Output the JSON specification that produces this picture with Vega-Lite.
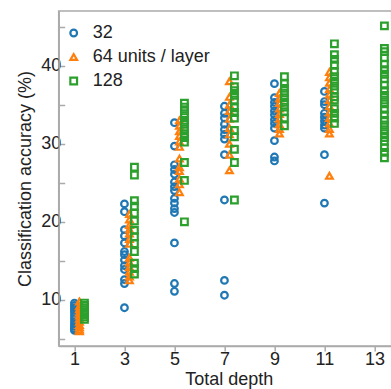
{
  "$schema": "https://vega.github.io/schema/vega-lite/v6.json",
  "autosize": {"type": "none"},
  "padding": {"left": 58.7, "top": 11, "right": 0, "bottom": 43},
  "width": 333,
  "height": 335,
  "background": "white",
  "config": {
    "font": "Liberation Sans",
    "view": {"stroke": "#aaaaaa", "strokeWidth": 1.5},
    "axis": {
      "grid": false,
      "domainColor": "#aaaaaa",
      "domainWidth": 1.5,
      "tickColor": "#aaaaaa",
      "tickWidth": 1.5,
      "labelFont": "Liberation Sans",
      "labelFontSize": 18,
      "labelColor": "#222222",
      "titleFont": "Liberation Sans",
      "titleFontSize": 18,
      "titleFontWeight": "normal",
      "titleColor": "#222222"
    },
    "legend": {
      "orient": "none",
      "legendX": 6,
      "legendY": 13,
      "padding": 0,
      "labelFont": "Liberation Sans",
      "labelFontSize": 18,
      "labelColor": "#222222",
      "rowPadding": 6,
      "labelOffset": 10,
      "symbolStrokeWidth": 2.2,
      "symbolSize": 45,
      "title": null
    }
  },
  "data": {
    "values": [
      {"s":"32","x":1,"a":9.6},{"s":"32","x":1,"a":9.3},{"s":"32","x":1,"a":9.0},{"s":"32","x":1,"a":8.7},{"s":"32","x":1,"a":8.4},{"s":"32","x":1,"a":8.0},{"s":"32","x":1,"a":7.6},{"s":"32","x":1,"a":7.2},{"s":"32","x":1,"a":6.9},{"s":"32","x":1,"a":6.6},{"s":"32","x":1,"a":6.3},{"s":"32","x":1,"a":6.1},
      {"s":"32","x":3,"a":22.3},{"s":"32","x":3,"a":21.3},{"s":"32","x":3,"a":19.0},{"s":"32","x":3,"a":18.2},{"s":"32","x":3,"a":17.3},{"s":"32","x":3,"a":16.2},{"s":"32","x":3,"a":15.8},{"s":"32","x":3,"a":15.1},{"s":"32","x":3,"a":14.4},{"s":"32","x":3,"a":13.9},{"s":"32","x":3,"a":12.6},{"s":"32","x":3,"a":12.1},{"s":"32","x":3,"a":9.0},
      {"s":"32","x":5,"a":32.7},{"s":"32","x":5,"a":29.7},{"s":"32","x":5,"a":27.3},{"s":"32","x":5,"a":26.7},{"s":"32","x":5,"a":26.1},{"s":"32","x":5,"a":25.1},{"s":"32","x":5,"a":24.5},{"s":"32","x":5,"a":24.0},{"s":"32","x":5,"a":23.0},{"s":"32","x":5,"a":22.4},{"s":"32","x":5,"a":21.7},{"s":"32","x":5,"a":21.2},{"s":"32","x":5,"a":17.3},{"s":"32","x":5,"a":12.1},{"s":"32","x":5,"a":11.1},
      {"s":"32","x":7,"a":34.8},{"s":"32","x":7,"a":33.9},{"s":"32","x":7,"a":33.3},{"s":"32","x":7,"a":32.5},{"s":"32","x":7,"a":31.8},{"s":"32","x":7,"a":31.2},{"s":"32","x":7,"a":30.6},{"s":"32","x":7,"a":28.6},{"s":"32","x":7,"a":22.8},{"s":"32","x":7,"a":12.5},{"s":"32","x":7,"a":10.6},
      {"s":"32","x":9,"a":37.7},{"s":"32","x":9,"a":35.9},{"s":"32","x":9,"a":35.3},{"s":"32","x":9,"a":34.8},{"s":"32","x":9,"a":34.2},{"s":"32","x":9,"a":33.7},{"s":"32","x":9,"a":33.1},{"s":"32","x":9,"a":32.6},{"s":"32","x":9,"a":32.0},{"s":"32","x":9,"a":30.4},{"s":"32","x":9,"a":28.3},{"s":"32","x":9,"a":27.8},
      {"s":"32","x":11,"a":36.7},{"s":"32","x":11,"a":35.4},{"s":"32","x":11,"a":35.0},{"s":"32","x":11,"a":33.9},{"s":"32","x":11,"a":33.4},{"s":"32","x":11,"a":32.9},{"s":"32","x":11,"a":32.4},{"s":"32","x":11,"a":32.0},{"s":"32","x":11,"a":28.6},{"s":"32","x":11,"a":22.4},
      {"s":"64","x":1.2,"a":9.8},{"s":"64","x":1.2,"a":9.2},{"s":"64","x":1.2,"a":8.8},{"s":"64","x":1.2,"a":8.4},{"s":"64","x":1.2,"a":8.0},{"s":"64","x":1.2,"a":7.6},{"s":"64","x":1.2,"a":7.2},{"s":"64","x":1.2,"a":6.8},{"s":"64","x":1.2,"a":6.5},{"s":"64","x":1.2,"a":6.2},{"s":"64","x":1.2,"a":6.0},
      {"s":"64","x":3.2,"a":21.0},{"s":"64","x":3.2,"a":20.3},{"s":"64","x":3.2,"a":19.6},{"s":"64","x":3.2,"a":19.0},{"s":"64","x":3.2,"a":18.5},{"s":"64","x":3.2,"a":17.8},{"s":"64","x":3.2,"a":17.2},{"s":"64","x":3.2,"a":15.4},{"s":"64","x":3.2,"a":14.8},{"s":"64","x":3.2,"a":14.2},{"s":"64","x":3.2,"a":13.6},{"s":"64","x":3.2,"a":13.0},{"s":"64","x":3.2,"a":12.5},
      {"s":"64","x":5.2,"a":33.0},{"s":"64","x":5.2,"a":32.3},{"s":"64","x":5.2,"a":31.6},{"s":"64","x":5.2,"a":31.0},{"s":"64","x":5.2,"a":30.3},{"s":"64","x":5.2,"a":29.6},{"s":"64","x":5.2,"a":28.1},{"s":"64","x":5.2,"a":27.0},{"s":"64","x":5.2,"a":26.5},{"s":"64","x":5.2,"a":25.5},{"s":"64","x":5.2,"a":24.8},{"s":"64","x":5.2,"a":23.8},
      {"s":"64","x":7.2,"a":38.0},{"s":"64","x":7.2,"a":36.0},{"s":"64","x":7.2,"a":35.0},{"s":"64","x":7.2,"a":34.2},{"s":"64","x":7.2,"a":33.2},{"s":"64","x":7.2,"a":32.0},{"s":"64","x":7.2,"a":31.2},{"s":"64","x":7.2,"a":30.0},{"s":"64","x":7.2,"a":28.6},{"s":"64","x":7.2,"a":26.6},
      {"s":"64","x":9.2,"a":36.5},{"s":"64","x":9.2,"a":35.8},{"s":"64","x":9.2,"a":35.2},{"s":"64","x":9.2,"a":34.5},{"s":"64","x":9.2,"a":33.8},{"s":"64","x":9.2,"a":33.2},{"s":"64","x":9.2,"a":32.5},{"s":"64","x":9.2,"a":31.9},{"s":"64","x":9.2,"a":31.3},
      {"s":"64","x":11.2,"a":39.2},{"s":"64","x":11.2,"a":38.5},{"s":"64","x":11.2,"a":37.8},{"s":"64","x":11.2,"a":37.0},{"s":"64","x":11.2,"a":36.3},{"s":"64","x":11.2,"a":35.6},{"s":"64","x":11.2,"a":34.8},{"s":"64","x":11.2,"a":34.0},{"s":"64","x":11.2,"a":33.3},{"s":"64","x":11.2,"a":32.6},{"s":"64","x":11.2,"a":31.9},{"s":"64","x":11.2,"a":31.3},{"s":"64","x":11.2,"a":25.9},
      {"s":"128","x":1.4,"a":9.6},{"s":"128","x":1.4,"a":9.3},{"s":"128","x":1.4,"a":9.0},{"s":"128","x":1.4,"a":8.7},{"s":"128","x":1.4,"a":8.4},{"s":"128","x":1.4,"a":8.1},{"s":"128","x":1.4,"a":7.8},{"s":"128","x":1.4,"a":7.5},
      {"s":"128","x":3.4,"a":27.0},{"s":"128","x":3.4,"a":26.0},{"s":"128","x":3.4,"a":22.7},{"s":"128","x":3.4,"a":22.0},{"s":"128","x":3.4,"a":21.1},{"s":"128","x":3.4,"a":20.1},{"s":"128","x":3.4,"a":18.9},{"s":"128","x":3.4,"a":18.1},{"s":"128","x":3.4,"a":17.2},{"s":"128","x":3.4,"a":16.2},{"s":"128","x":3.4,"a":14.7},{"s":"128","x":3.4,"a":14.0},{"s":"128","x":3.4,"a":13.3},
      {"s":"128","x":5.4,"a":35.2},{"s":"128","x":5.4,"a":34.7},{"s":"128","x":5.4,"a":34.2},{"s":"128","x":5.4,"a":33.6},{"s":"128","x":5.4,"a":33.0},{"s":"128","x":5.4,"a":32.5},{"s":"128","x":5.4,"a":31.9},{"s":"128","x":5.4,"a":31.3},{"s":"128","x":5.4,"a":30.8},{"s":"128","x":5.4,"a":30.2},{"s":"128","x":5.4,"a":27.6},{"s":"128","x":5.4,"a":25.3},{"s":"128","x":5.4,"a":20.0},
      {"s":"128","x":7.4,"a":38.7},{"s":"128","x":7.4,"a":37.3},{"s":"128","x":7.4,"a":36.8},{"s":"128","x":7.4,"a":36.2},{"s":"128","x":7.4,"a":35.6},{"s":"128","x":7.4,"a":34.6},{"s":"128","x":7.4,"a":34.0},{"s":"128","x":7.4,"a":33.3},{"s":"128","x":7.4,"a":31.7},{"s":"128","x":7.4,"a":30.9},{"s":"128","x":7.4,"a":29.3},{"s":"128","x":7.4,"a":27.6},{"s":"128","x":7.4,"a":22.8},
      {"s":"128","x":9.4,"a":38.6},{"s":"128","x":9.4,"a":37.7},{"s":"128","x":9.4,"a":37.1},{"s":"128","x":9.4,"a":36.5},{"s":"128","x":9.4,"a":35.9},{"s":"128","x":9.4,"a":35.3},{"s":"128","x":9.4,"a":34.7},{"s":"128","x":9.4,"a":34.1},{"s":"128","x":9.4,"a":33.3},{"s":"128","x":9.4,"a":32.3},
      {"s":"128","x":11.4,"a":42.8},{"s":"128","x":11.4,"a":41.4},{"s":"128","x":11.4,"a":40.8},{"s":"128","x":11.4,"a":40.1},{"s":"128","x":11.4,"a":39.2},{"s":"128","x":11.4,"a":38.6},{"s":"128","x":11.4,"a":38.0},{"s":"128","x":11.4,"a":37.4},{"s":"128","x":11.4,"a":36.9},{"s":"128","x":11.4,"a":36.0},{"s":"128","x":11.4,"a":35.6},{"s":"128","x":11.4,"a":34.5},{"s":"128","x":11.4,"a":33.9},{"s":"128","x":11.4,"a":33.3},{"s":"128","x":11.4,"a":32.6},
      {"s":"128","x":13.4,"a":45.1},{"s":"128","x":13.4,"a":42.2},{"s":"128","x":13.4,"a":41.8},{"s":"128","x":13.4,"a":41.0},{"s":"128","x":13.4,"a":40.2},{"s":"128","x":13.4,"a":39.5},{"s":"128","x":13.4,"a":38.9},{"s":"128","x":13.4,"a":38.3},{"s":"128","x":13.4,"a":37.5},{"s":"128","x":13.4,"a":36.8},{"s":"128","x":13.4,"a":36.2},{"s":"128","x":13.4,"a":35.6},{"s":"128","x":13.4,"a":35.1},{"s":"128","x":13.4,"a":34.4},{"s":"128","x":13.4,"a":33.7},{"s":"128","x":13.4,"a":33.0},{"s":"128","x":13.4,"a":32.4},{"s":"128","x":13.4,"a":31.8},{"s":"128","x":13.4,"a":31.3},{"s":"128","x":13.4,"a":30.8},{"s":"128","x":13.4,"a":30.3},{"s":"128","x":13.4,"a":29.5},{"s":"128","x":13.4,"a":28.9},{"s":"128","x":13.4,"a":28.2}
    ]
  },
  "mark": {"type": "point", "filled": false, "opacity": 1, "strokeWidth": 2.2, "size": 44},
  "encoding": {
    "x": {
      "field": "x", "type": "quantitative",
      "scale": {"domain": [0.37, 13.69], "nice": false, "zero": false},
      "axis": {"values": [1, 3, 5, 7, 9, 11, 13], "title": "Total depth", "tickSize": 5, "labelPadding": 0, "titleX": 170, "titleY": 39, "titleBaseline": "alphabetic", "titleAlign": "center", "titleAnchor": null, "labelFlush": false}
    },
    "y": {
      "field": "a", "type": "quantitative",
      "scale": {"domain": [4.1, 47.0], "nice": false, "zero": false},
      "axis": {"values": [5, 10, 15, 20, 25, 30, 35, 40, 45], "labelExpr": "datum.value % 10 === 0 ? datum.label : ''", "title": "Classification accuracy (%)", "tickSize": -6, "labelPadding": 4, "titlePadding": 6, "labelFlush": false}
    },
    "color": {
      "field": "s", "type": "nominal",
      "scale": {"domain": ["32", "64", "128"], "range": ["#1f77b4", "#ff7f0e", "#2ca02c"]},
      "legend": {"labelExpr": "datum.label == '64' ? '  64 units / layer' : datum.label == '32' ? '  32' : datum.label"}
    },
    "shape": {
      "field": "s", "type": "nominal",
      "scale": {"domain": ["32", "64", "128"], "range": ["circle", "triangle-up", "square"]}
    }
  }
}
